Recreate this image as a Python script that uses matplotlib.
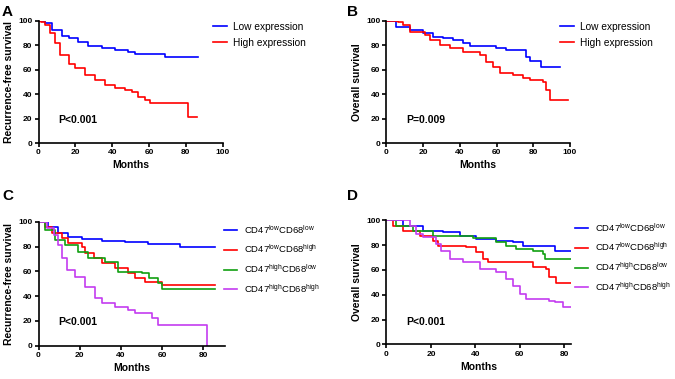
import matplotlib
matplotlib.use('Agg')
from matplotlib import pyplot as plt

plt.rcParams['font.family'] = ['Liberation Sans', 'DejaVu Sans']
plt.rcParams['mathtext.fontset'] = 'custom'
plt.rcParams['mathtext.rm'] = 'Liberation Sans'

BLUE = '#0000ff'
RED = '#ff0000'
GREEN = '#10a010'
PURPLE = '#c33cf0'

# A: recurrence-free survival by expression
a_low_t = [0, 3.6, 7.2, 12.6, 16.3, 21.7, 27.1, 34.3, 41.5, 48.8, 52.4, 68.6, 86.7]
a_low_s = [100, 97.8, 92.4, 87.7, 85.6, 82.8, 79.3, 77.4, 76.0, 74.1, 72.5, 70.6, 70.6]
a_high_t = [0, 1.5, 3.6, 6.3, 9.0, 11.7, 16.3, 19.9, 25.3, 30.7, 36.1, 41.5, 46.9, 50.6,
            54.2, 57.8, 60.5, 81.3, 85.8]
a_high_s = [100, 99, 96.5, 89.6, 81.5, 72.0, 65.0, 61.0, 55.6, 51.5, 47.4, 44.7, 43.3, 41.4,
            37.9, 35.1, 32.4, 21.5, 21.5]

# B: overall survival by expression
b_low_t = [0, 5.4, 12.6, 19.9, 25.3, 30.8, 36.2, 41.6, 45.3, 59.9, 65.3, 76.2, 78.1, 84.4, 94.4]
b_low_s = [100, 95.1, 92.4, 89.6, 86.9, 85.6, 84.2, 81.5, 79.3, 77.4, 76.0, 70.6, 67.3, 61.9, 61.9]
b_high_t = [0, 6.3, 9.0, 12.6, 20.8, 23.5, 29.0, 34.4, 41.7, 50.8, 54.4, 58.2, 61.7, 68.9,
            74.4, 78.0, 85.3, 87.1, 88.9, 99.0]
b_high_s = [100, 99, 96.5, 91.0, 88.3, 84.2, 80.1, 77.4, 74.7, 71.9, 66.5, 62.4, 57.0, 55.6,
            52.9, 51.5, 50.1, 43.3, 35.1, 35.1]

# C: recurrence-free survival by CD47/CD68 group
c_ll_t = [0, 4.8, 9.7, 14.5, 21.0, 30.7, 42.0, 53.3, 68.7, 85.6]
c_ll_s = [100, 96.0, 90.6, 87.9, 86.0, 84.4, 83.3, 82.0, 79.8, 79.8]
c_lh_t = [0, 3.2, 6.5, 11.3, 14.5, 21.0, 22.6, 26.7, 30.7, 37.2, 43.6, 46.9, 51.7, 59.8, 85.6]
c_lh_s = [100, 96.0, 90.6, 86.6, 82.5, 79.8, 74.5, 70.4, 66.4, 62.4, 58.3, 54.3, 51.6, 48.9, 48.9]
c_hl_t = [0, 3.2, 8.1, 12.9, 19.4, 24.2, 32.3, 38.8, 50.1, 53.5, 58.2, 59.8, 85.6]
c_hl_s = [100, 93.3, 85.2, 81.2, 75.8, 70.4, 67.7, 59.7, 59.0, 54.3, 50.3, 45.7, 45.7]
c_hh_t = [0, 4.0, 7.3, 9.7, 11.3, 13.7, 17.8, 22.6, 27.5, 30.7, 37.2, 43.6, 46.9, 54.9,
          58.2, 81.6]
c_hh_s = [100, 94.6, 89.2, 81.2, 70.4, 61.0, 55.6, 47.6, 38.2, 34.1, 31.5, 28.8, 26.1, 22.0,
          16.7, 0]

# D: overall survival by CD47/CD68 group
d_ll_t = [0, 7.4, 16.4, 25.4, 32.9, 40.4, 49.4, 56.9, 61.3, 75.6, 83.8]
d_ll_s = [100, 95.7, 91.7, 90.3, 87.6, 84.9, 83.6, 82.3, 79.6, 75.5, 75.5]
d_lh_t = [0, 2.9, 7.4, 14.9, 20.9, 23.1, 35.9, 40.4, 43.4, 45.6, 65.8, 71.8, 73.3, 76.3, 83.8]
d_lh_s = [100, 95.7, 91.7, 87.6, 83.6, 79.6, 78.2, 74.2, 68.8, 66.1, 62.1, 60.8, 54.0, 49.2, 49.2]
d_hl_t = [0, 4.4, 11.9, 20.9, 38.9, 49.4, 53.9, 58.4, 65.8, 70.3, 71.1, 83.8]
d_hl_s = [100, 95.7, 91.7, 87.6, 85.5, 82.3, 79.6, 76.9, 75.5, 72.8, 68.8, 68.8]
d_hh_t = [0, 8.9, 10.4, 13.4, 16.4, 22.4, 24.6, 28.4, 34.4, 41.9, 49.4, 53.9, 56.9, 59.9,
          62.9, 73.3, 75.6, 79.3, 83.8]
d_hh_s = [100, 100, 95.7, 89.0, 86.3, 81.0, 75.5, 68.8, 66.1, 60.8, 58.1, 52.7, 47.3, 40.6,
          36.6, 35.2, 33.8, 29.8, 29.8]

expr_labels = ['Low expression', 'High expression']
group_labels = [r'CD47$^{\mathrm{low}}$CD68$^{\mathrm{low}}$',
                r'CD47$^{\mathrm{low}}$CD68$^{\mathrm{high}}$',
                r'CD47$^{\mathrm{high}}$CD68$^{\mathrm{low}}$',
                r'CD47$^{\mathrm{high}}$CD68$^{\mathrm{high}}$']

W, H = 675, 379
fig = plt.figure(figsize=(W / 100, H / 100), dpi=100)


def make_ax(left, right, top, bottom):
    return fig.add_axes([left / W, 1 - bottom / H, (right - left) / W, (bottom - top) / H])


def style(ax, xmax, xticks, ylabel, ptext, px, py):
    for s in ['top', 'right']:
        ax.spines[s].set_visible(False)
    for s in ['left', 'bottom']:
        ax.spines[s].set_linewidth(1.2)
    ax.set_xlim(0, xmax)
    ax.set_ylim(0, 100)
    ax.set_xticks(xticks)
    ax.set_yticks([0, 20, 40, 60, 80, 100])
    ax.tick_params(length=3, width=1.2, labelsize=6, pad=1.5)
    for lab in ax.get_xticklabels() + ax.get_yticklabels():
        lab.set_fontweight('bold')
    ax.set_xlabel('Months', fontsize=7.5, fontweight='bold', labelpad=3)
    ax.set_ylabel(ylabel, fontsize=7.5, fontweight='bold', labelpad=3)
    ax.text(px, py, ptext, fontsize=7.5, fontweight='bold', va='center')


axA = make_ax(38.5, 222.7, 20.7, 143)
axA.step(a_low_t, a_low_s, where='post', color=BLUE, lw=1.2, label=expr_labels[0])
axA.step(a_high_t, a_high_s, where='post', color=RED, lw=1.2, label=expr_labels[1])
style(axA, 100, [0, 20, 40, 60, 80, 100], 'Recurrence-free survival', 'P<0.001', 10.6, 18.8)

axB = make_ax(386.5, 570, 20.7, 143)
axB.step(b_low_t, b_low_s, where='post', color=BLUE, lw=1.2, label=expr_labels[0])
axB.step(b_high_t, b_high_s, where='post', color=RED, lw=1.2, label=expr_labels[1])
style(axB, 100, [0, 20, 40, 60, 80, 100], 'Overall survival', 'P=0.009', 11, 18.8)

axC = make_ax(38.5, 225, 221.7, 345.7)
for t, s, c, lab in zip([c_ll_t, c_lh_t, c_hl_t, c_hh_t], [c_ll_s, c_lh_s, c_hl_s, c_hh_s],
                        [BLUE, RED, GREEN, PURPLE], group_labels):
    axC.step(t, s, where='post', color=c, lw=1.2, label=lab)
style(axC, 90.5, [0, 20, 40, 60, 80], 'Recurrence-free survival', 'P<0.001', 9.6, 18.9)

axD = make_ax(386.5, 571, 220.3, 344.3)
for t, s, c, lab in zip([d_ll_t, d_lh_t, d_hl_t, d_hh_t], [d_ll_s, d_lh_s, d_hl_s, d_hh_s],
                        [BLUE, RED, GREEN, PURPLE], group_labels):
    axD.step(t, s, where='post', color=c, lw=1.2, label=lab)
style(axD, 83, [0, 20, 40, 60, 80], 'Overall survival', 'P<0.001', 9.1, 18.2)

# legends
for ax, x0, y0 in [(axA, 213, 22), (axB, 560, 22)]:
    ax.legend(loc='upper left', bbox_to_anchor=(x0 / W, 1 - y0 / H),
              bbox_transform=fig.transFigure, frameon=False, fontsize=7.3,
              handlelength=1.4, handletextpad=0.6, labelspacing=0.55,
              borderpad=0, borderaxespad=0)
for ax, x0, y0 in [(axC, 224, 223), (axD, 575, 221)]:
    ax.legend(loc='upper left', bbox_to_anchor=(x0 / W, 1 - y0 / H),
              bbox_transform=fig.transFigure, frameon=False, fontsize=6.8,
              handlelength=1.4, handletextpad=0.7, labelspacing=0.75,
              borderpad=0, borderaxespad=0)

# panel letters
for letter, x, y in [('A', 2, 5), ('B', 347, 5), ('C', 2, 189), ('D', 347, 189)]:
    fig.text(x / W, 1 - y / H, letter, fontsize=11, fontweight='bold', va='top', ha='left')

fig.savefig('out.png', dpi=100)
